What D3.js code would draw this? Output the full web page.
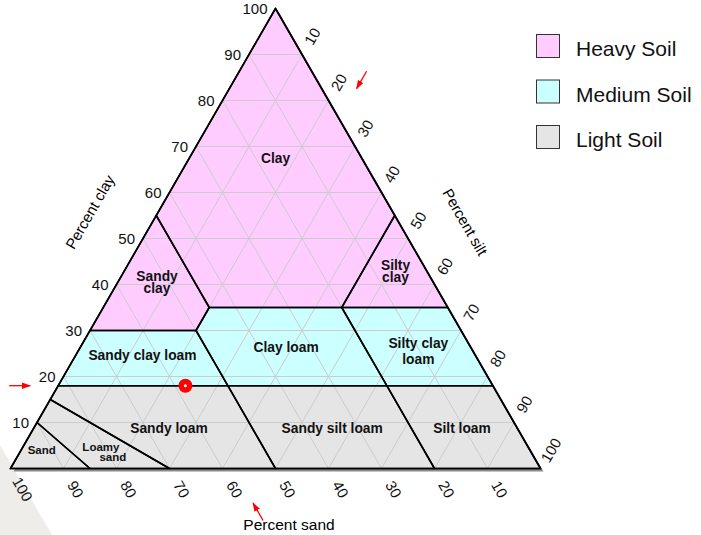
<!DOCTYPE html>
<html><head><meta charset="utf-8">
<script src="https://cdn.jsdelivr.net/npm/d3@7"></script>
<style>body{margin:0;background:#fff}svg{display:block;font-family:"Liberation Sans",Arial,sans-serif}</style>
</head><body>
<svg id="c" width="701" height="535"></svg>
<script>
// ---- data (ternary coords: [sand, silt, clay]) ----
const ticks = [10,20,30,40,50,60,70,80,90,100];
const classNames = ["Heavy Soil","Medium Soil","Light Soil"];
const classColors = ["#ffccff","#ccffff","#e5e5e5"];
const regionNames = ["Clay","Sandy clay","Silty clay","Sandy clay loam","Clay loam","Silty clay loam","Sandy loam","Loamy sand","Sand","Sandy silt loam","Silt loam"];
const regionClass = [0,0,0,1,1,1,2,2,2,2,2];
const regionPolys = [
  [[0,0,100],[45,0,55],[45,20,35],[20,45,35],[0,45,55]],
  [[45,0,55],[70,0,30],[50,20,30],[45,20,35]],
  [[0,45,55],[20,45,35],[0,65,35]],
  [[70,0,30],[82,0,18],[50,32,18],[50,20,30]],
  [[50,20,30],[45,20,35],[20,45,35],[20,62,18],[50,32,18]],
  [[20,45,35],[0,65,35],[0,82,18],[20,62,18]],
  [[82,0,18],[85,0,15],[70,30,0],[50,50,0],[50,32,18]],
  [[85,0,15],[90,0,10],[85,15,0],[70,30,0]],
  [[90,0,10],[100,0,0],[85,15,0]],
  [[50,32,18],[50,50,0],[20,80,0],[20,62,18]],
  [[20,62,18],[20,80,0],[0,100,0],[0,82,18]]
];
const labelLines = [["Clay"],["Sandy","clay"],["Silty","clay"],["Sandy clay loam"],["Clay loam"],["Silty clay","loam"],["Sandy loam"],["Loamy","sand"],["Sand"],["Sandy silt loam"],["Silt loam"]];
const labelPos = [[16.3,16.3,67.4],[52.1,7.4,40.5],[5.9,51.2,42.9],[62.8,12.6,24.6],[34.8,38.8,26.4],[10.3,64.2,25.5],[65.7,25.5,8.8],[80.2,16.2,3.6],[92.1,3.9,4.0],[34.9,56.3,8.8],[10.4,80.8,8.8]];
const samplePoint = [58,24,18];
const axisTitles = ["Percent clay","Percent silt","Percent sand"];

// ---- scales ----
const X = d3.scaleLinear().domain([0,100]).range([10.5,540.5]);
const Y = d3.scaleLinear().domain([0,100]).range([468.5,8.5]);
const P = d => [X(d[1] + d[2]/2), Y(d[2])];

const svg = d3.select("#c");

// background wedge
svg.append("path").attr("d","M0,445 L52,535 L0,535 Z").attr("fill","#eeede9");

const tri = [[100,0,0],[0,100,0],[0,0,100]].map(P);
// shadow
svg.append("polygon").attr("points", tri.map(p=>[p[0]+3,p[1]+3].join(",")).join(" ")).attr("fill","#8a8a8a");

// regions
svg.append("g").selectAll("polygon").data(regionPolys).join("polygon")
  .attr("points", d => d.map(P).map(p=>p.join(",")).join(" "))
  .attr("fill", (d,i) => classColors[regionClass[i]]).attr("stroke","none");

// grid
const grid = svg.append("g").attr("stroke","#cccccc").attr("stroke-width",1);
ticks.slice(0,9).forEach(v => {
  const segs = [
    [[100-v,0,v],[0,100-v,v]],   // clay const
    [[v,0,100-v],[v,100-v,0]],   // sand const
    [[0,v,100-v],[100-v,v,0]]    // silt const
  ];
  segs.forEach(s => {
    const a=P(s[0]), b=P(s[1]);
    grid.append("line").attr("x1",a[0]).attr("y1",a[1]).attr("x2",b[0]).attr("y2",b[1]);
  });
});

// region boundaries
svg.append("g").selectAll("polygon").data(regionPolys).join("polygon")
  .attr("points", d => d.map(P).map(p=>p.join(",")).join(" "))
  .attr("fill","none").attr("stroke","#000").attr("stroke-width",1.6).attr("stroke-linejoin","round");

// outline
svg.append("polygon").attr("points", tri.map(p=>p.join(",")).join(" "))
  .attr("fill","none").attr("stroke","#000").attr("stroke-width",1.6);

// region labels
const lg = svg.append("g").attr("font-weight","bold").attr("text-anchor","middle").attr("fill","#111");
labelLines.forEach((lines,i) => {
  const p = P(labelPos[i]);
  const small = (regionNames[i]==="Sand"||regionNames[i]==="Loamy sand");
  const gap = regionNames[i]==="Silty clay loam" ? 16 : (small ? 10.5 : 11.5);
  const t = lg.append("text").attr("font-size", small ? 11.5 : 13.8);
  lines.forEach((ln,k) => {
    let dx = 0;
    if (regionNames[i]==="Loamy sand") dx = k===0 ? -5 : 7;
    t.append("tspan").attr("x", p[0]+dx).attr("y", p[1] + (k - (lines.length-1)/2)*gap).attr("dy","0.35em").text(ln);
  });
});

// tick labels
const tg = svg.append("g").attr("font-size",15).attr("fill","#111");
ticks.forEach(v => {
  // clay (left)
  const a = P([100-v,0,v]);
  tg.append("text").attr("x",a[0]-8).attr("y",a[1]).attr("dy","0.35em").attr("text-anchor","end").text(v);
  // silt (right)
  const b = P([0,v,100-v]);
  const bx = b[0]+21*0.5, by = b[1]-21*0.866;
  tg.append("text").attr("transform",`translate(${bx},${by}) rotate(-60)`).attr("dy","0.35em").attr("text-anchor","middle").text(v);
  // sand (bottom)
  const c = P([v,100-v,0]);
  const cx = c[0]+24*0.5, cy = c[1]+24*0.866;
  tg.append("text").attr("transform",`translate(${cx},${cy}) rotate(60)`).attr("dy","0.35em").attr("text-anchor","middle").text(v);
});

// axis titles
svg.append("text").attr("transform","translate(90,212) rotate(-60)").attr("text-anchor","middle").attr("dy","0.35em").attr("font-size",15).text(axisTitles[0]);
svg.append("text").attr("transform","translate(465,222) rotate(60)").attr("text-anchor","middle").attr("dy","0.35em").attr("font-size",15).text(axisTitles[1]);
svg.append("text").attr("x",289).attr("y",530).attr("text-anchor","middle").attr("font-size",15.5).text(axisTitles[2]);

// sample point & arrows
const defs = svg.append("defs");
defs.append("marker").attr("id","ah").attr("viewBox","0 0 10 10").attr("refX",9).attr("refY",5)
  .attr("markerWidth",7).attr("markerHeight",7).attr("orient","auto")
  .append("path").attr("d","M0,1.5 L10,5 L0,8.5 Z").attr("fill","red");
const arrow = (x1,y1,x2,y2) => svg.append("line").attr("x1",x1).attr("y1",y1).attr("x2",x2).attr("y2",y2)
  .attr("stroke","red").attr("stroke-width",1.3).attr("marker-end","url(#ah)");
const sp = P(samplePoint);
// clay arrow (left)
const ca = P([100-samplePoint[2],0,samplePoint[2]]);
arrow(ca[0]-49, ca[1], ca[0]-28, ca[1]);
// silt arrow (right)
const sa = P([0,samplePoint[1],100-samplePoint[1]]);
arrow(sa[0]+55*0.5, sa[1]-55*0.866, sa[0]+35*0.5, sa[1]-35*0.866);
// sand arrow (bottom)
const sb = P([samplePoint[0],100-samplePoint[0],0]);
arrow(sb[0]+60*0.5, sb[1]+60*0.866, sb[0]+40*0.5, sb[1]+40*0.866);
svg.append("circle").attr("cx",sp[0]).attr("cy",sp[1]).attr("r",7).attr("fill","red");
svg.append("circle").attr("cx",sp[0]).attr("cy",sp[1]).attr("r",1.5).attr("fill","#fff");

// legend
const leg = svg.append("g");
classNames.forEach((n,i) => {
  leg.append("rect").attr("x",536.5).attr("y",34.5+i*45.5).attr("width",23).attr("height",23)
    .attr("fill",classColors[i]).attr("stroke","#333").attr("stroke-width",1);
  leg.append("text").attr("x",576).attr("y",56+i*45.5).attr("font-size",21).attr("fill","#111").text(n);
});
</script>
</body></html>
